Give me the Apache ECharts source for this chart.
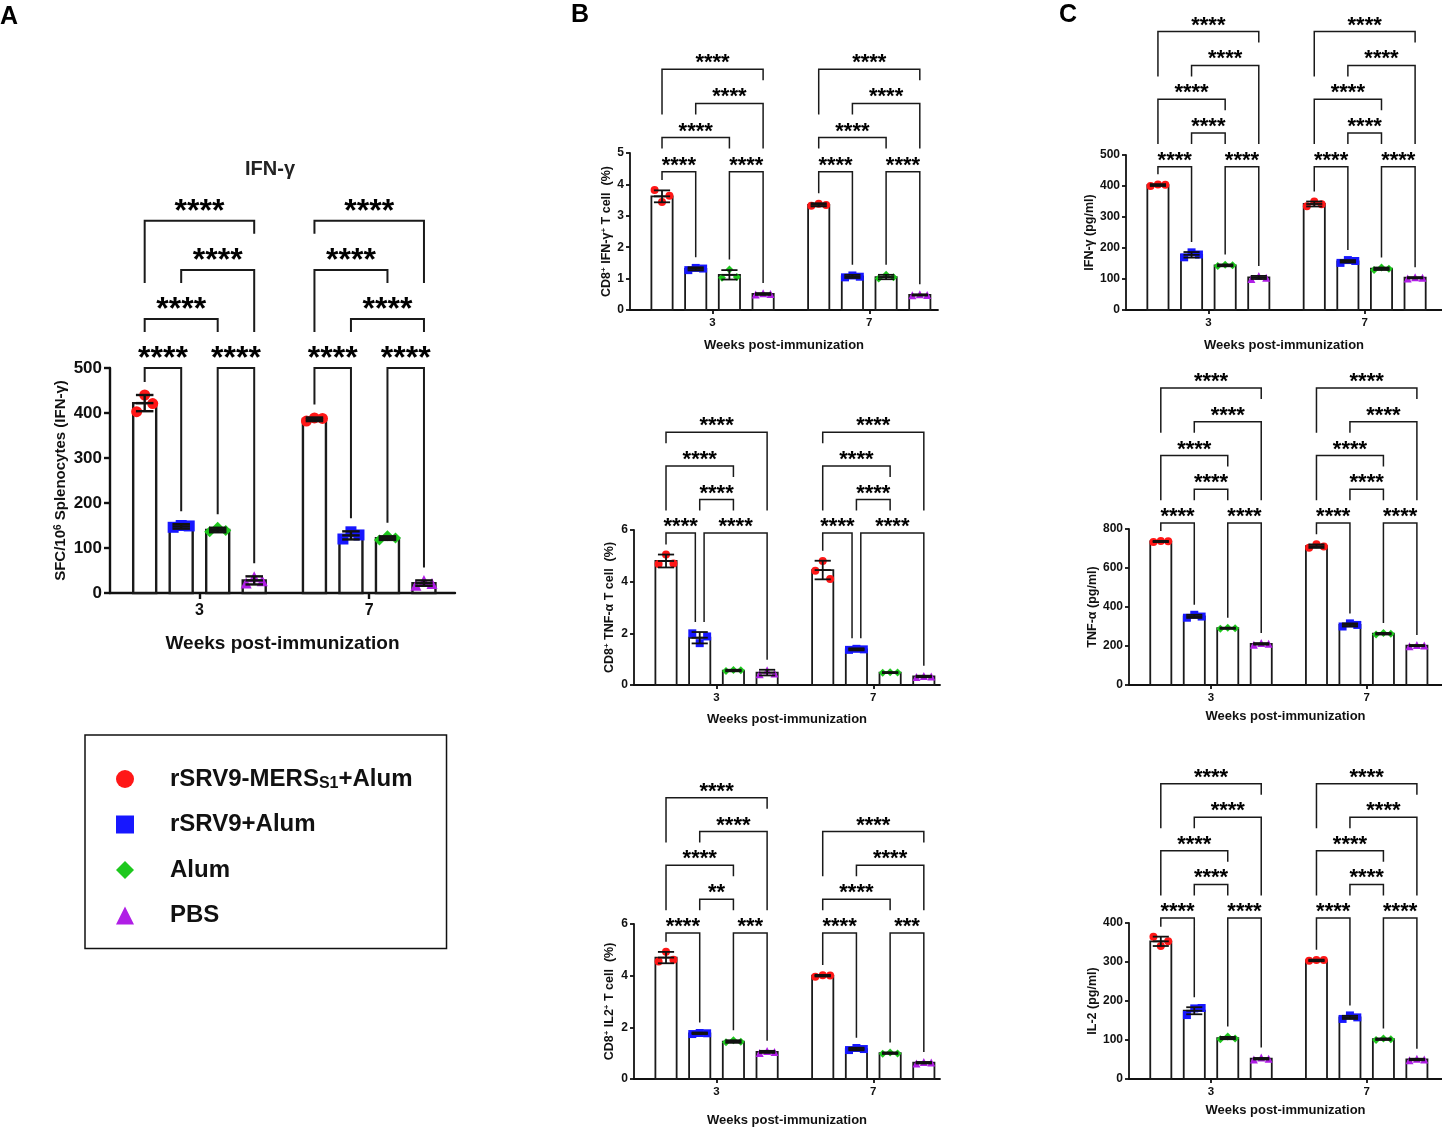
<!DOCTYPE html>
<html>
<head>
<meta charset="UTF-8">
<title>IFN-γ / TNF-α / IL-2 responses</title>
<script src="https://cdn.jsdelivr.net/npm/echarts@6/dist/echarts.min.js"></script>
</head>
<body style="margin:0">
<div id="main" style="width:1442px;height:1128px;"></div>
<script>
// groups and time points
var groups = ['rSRV9-MERS S1+Alum', 'rSRV9+Alum', 'Alum', 'PBS'];
var weeks = ['3', '7'];

// A: SFC/10^6 splenocytes (IFN-γ)   [week][group]
var aMean = [[422, 148, 140, 28], [386, 128, 122, 22]];
var aSd = [[18, 5, 5, 9], [4, 9, 4, 6]];
var aPts = [
  [[403, 440, 421], [146, 150, 149], [136, 146, 139], [22, 36, 27]],
  [[382, 389, 388], [120, 136, 129], [118, 127, 122], [17, 28, 21]]
];
// comparisons: [week, bar from, bar to, level, stars]
var aSig = [
  [0, 0, 1, 1, '****'], [0, 2, 3, 1, '****'], [0, 0, 2, 2, '****'], [0, 1, 3, 3, '****'], [0, 0, 3, 4, '****'],
  [1, 0, 1, 1, '****'], [1, 2, 3, 1, '****'], [1, 1, 3, 2, '****'], [1, 0, 2, 3, '****'], [1, 0, 3, 4, '****']
];

// B1: CD8+ IFN-γ+ T cell (%)
var b1Mean = [[3.62, 1.31, 1.12, 0.51], [3.35, 1.07, 1.05, 0.48]];
var b1Sd = [[0.19, 0.05, 0.15, 0.03], [0.05, 0.05, 0.07, 0.02]];
var b1Pts = [
  [[3.82, 3.44, 3.64], [1.27, 1.34, 1.32], [1.03, 1.29, 1.05], [0.49, 0.53, 0.51]],
  [[3.32, 3.38, 3.34], [1.04, 1.10, 1.06], [1.00, 1.12, 1.04], [0.47, 0.50, 0.48]]
];
var b1Sig = [
  [0, 0, 1, 1, '****'], [0, 2, 3, 1, '****'], [0, 0, 2, 2, '****'], [0, 1, 3, 3, '****'], [0, 0, 3, 4, '****'],
  [1, 0, 1, 1, '****'], [1, 2, 3, 1, '****'], [1, 0, 2, 2, '****'], [1, 1, 3, 3, '****'], [1, 0, 3, 4, '****']
];

// B2: CD8+ TNF-α T cell (%)
var b2Mean = [[4.80, 1.83, 0.56, 0.48], [4.45, 1.38, 0.48, 0.33]];
var b2Sd = [[0.25, 0.22, 0.03, 0.11], [0.36, 0.04, 0.02, 0.03]];
var b2Pts = [
  [[4.68, 5.05, 4.70], [2.00, 1.62, 1.88], [0.54, 0.58, 0.57], [0.42, 0.57, 0.45]],
  [[4.42, 4.80, 4.10], [1.36, 1.40, 1.38], [0.47, 0.49, 0.48], [0.31, 0.35, 0.33]]
];
var b2Sig = [
  [0, 0, 1, 1, '****'], [0, 1, 3, 1, '****'], [0, 1, 2, 2, '****'], [0, 0, 2, 3, '****'], [0, 0, 3, 4, '****'],
  [1, 0, 1, 1, '****'], [1, 1, 3, 1, '****'], [1, 1, 2, 2, '****'], [1, 0, 2, 3, '****'], [1, 0, 3, 4, '****']
];

// B3: CD8+ IL2+ T cell (%)
var b3Mean = [[4.70, 1.77, 1.45, 1.05], [4.00, 1.16, 1.00, 0.63]];
var b3Sd = [[0.22, 0.03, 0.05, 0.04], [0.03, 0.05, 0.03, 0.03]];
var b3Pts = [
  [[4.55, 4.93, 4.62], [1.74, 1.78, 1.77], [1.42, 1.50, 1.44], [1.01, 1.08, 1.05]],
  [[3.96, 4.02, 4.01], [1.12, 1.20, 1.16], [0.98, 1.03, 0.99], [0.60, 0.66, 0.64]]
];
var b3Sig = [
  [0, 0, 1, 1, '****'], [0, 2, 3, 1, '***'], [0, 1, 2, 2, '**'], [0, 0, 2, 3, '****'], [0, 1, 3, 4, '****'], [0, 0, 3, 5, '****'],
  [1, 0, 1, 1, '****'], [1, 2, 3, 1, '***'], [1, 0, 2, 2, '****'], [1, 1, 3, 3, '****'], [1, 0, 3, 4, '****']
];

// C1: IFN-γ (pg/ml)
var c1Mean = [[403, 178, 144, 105], [342, 157, 133, 104]];
var c1Sd = [[3, 9, 3, 5], [8, 4, 4, 2]];
var c1Pts = [
  [[400, 405, 404], [170, 186, 179], [142, 146, 144], [100, 110, 104]],
  [[335, 350, 341], [152, 161, 158], [129, 137, 133], [102, 106, 104]]
];
// C2: TNF-α (pg/ml)
var c2Mean = [[736, 352, 291, 211], [712, 308, 263, 202]];
var c2Sd = [[3, 8, 3, 4], [9, 8, 4, 3]];
var c2Pts = [
  [[733, 738, 737], [345, 360, 351], [289, 293, 291], [207, 215, 211]],
  [[704, 722, 710], [300, 316, 308], [259, 267, 263], [199, 205, 202]]
];
// C3: IL-2 (pg/ml)
var c3Mean = [[353, 175, 105, 52], [304, 158, 102, 50]];
var c3Sd = [[12, 9, 3, 2], [2, 4, 2, 2]];
var c3Pts = [
  [[365, 341, 353], [164, 181, 182], [102, 109, 104], [50, 55, 52]],
  [[303, 305, 305], [154, 163, 158], [100, 104, 102], [48, 52, 50]]
];
// same comparisons in all three C panels
var cSig = [
  [0, 0, 1, 1, '****'], [0, 2, 3, 1, '****'], [0, 1, 2, 2, '****'], [0, 0, 2, 3, '****'], [0, 1, 3, 4, '****'], [0, 0, 3, 5, '****'],
  [1, 0, 1, 1, '****'], [1, 2, 3, 1, '****'], [1, 1, 2, 2, '****'], [1, 0, 2, 3, '****'], [1, 1, 3, 4, '****'], [1, 0, 3, 5, '****']
];

// layout helpers
var FONT = '"Liberation Sans", Arial, sans-serif';
var GOFF = 4.65;           // x offset of the week-7 group in bar slots
var TICKS = [1.5, 1.5 + GOFF];
var JIT = [-0.22, 0, 0.22];
var BW = 0.63;
var SYMB = ['circle', 'rect', 'diamond', 'triangle'];
var COLS = ['#ff1717', '#1717ff', '#1ec81e', '#b01ee6'];

var panels = [
  {mean: aMean, sd: aSd, pts: aPts, sig: aSig, grid: {left: 110, top: 368, width: 345, height: 225},
   xMax: 8.5, yMax: 500, yStep: 100, base: 500, step: 109, big: true, xGap: 41, yGap: 42,
   yName: 'SFC/10{sup|6} Splenocytes (IFN-γ)'},
  {mean: b1Mean, sd: b1Sd, pts: b1Pts, sig: b1Sig, grid: {left: 630, top: 153, width: 308, height: 157},
   xMax: 8.19, yMax: 5, yStep: 1, base: 4.40, step: 1.09, xGap: 29, yGap: 17,
   yName: 'CD8{sup|+} IFN-γ{sup|+} T cell  (%)'},
  {mean: b2Mean, sd: b2Sd, pts: b2Pts, sig: b2Sig, grid: {left: 634, top: 530, width: 306, height: 155},
   xMax: 8.13, yMax: 6, yStep: 2, base: 5.88, step: 1.30, xGap: 28, yGap: 18,
   yName: 'CD8{sup|+} TNF-α T cell  (%)'},
  {mean: b3Mean, sd: b3Sd, pts: b3Pts, sig: b3Sig, grid: {left: 634, top: 924, width: 306, height: 155},
   xMax: 8.13, yMax: 6, yStep: 2, base: 5.65, step: 1.31, xGap: 35, yGap: 18,
   yName: 'CD8{sup|+} IL2{sup|+} T cell  (%)'},
  {mean: c1Mean, sd: c1Sd, pts: c1Pts, sig: cSig, grid: {left: 1126, top: 155, width: 316, height: 155},
   xMax: 8.45, yMax: 500, yStep: 100, base: 462, step: 109, xGap: 29, yGap: 28,
   yName: 'IFN-γ (pg/ml)'},
  {mean: c2Mean, sd: c2Sd, pts: c2Pts, sig: cSig, grid: {left: 1129, top: 529, width: 313, height: 156},
   xMax: 8.4, yMax: 800, yStep: 200, base: 831, step: 173, xGap: 25, yGap: 28,
   yName: 'TNF-α (pg/ml)'},
  {mean: c3Mean, sd: c3Sd, pts: c3Pts, sig: cSig, grid: {left: 1129, top: 923, width: 313, height: 156},
   xMax: 8.4, yMax: 400, yStep: 100, base: 413, step: 86, xGap: 25, yGap: 28,
   yName: 'IL-2 (pg/ml)'}
];

function barX(w, i) { return w * GOFF + i; }

function dataTop(p, w, i) {
  var t = p.mean[w][i] + p.sd[w][i];
  p.pts[w][i].forEach(function (v) { if (v > t) t = v; });
  return t;
}

// where a bracket leg at bar `bar` (level lv) stops
function legBottom(p, api, w, bar, lv) {
  var j = 0;
  p.sig.forEach(function (s) {
    if (s[0] === w && s[3] < lv && bar >= s[1] && bar <= s[2] && s[3] > j) j = s[3];
  });
  if (j > 0) return api.coord([0, p.base + j * p.step])[1] + (p.big ? 13 : 11);
  return api.coord([0, dataTop(p, w, bar)])[1] - (p.big ? 13 : 10);
}

// small sideways shift where two brackets of one level meet at a bar
function legShift(p, s, bar) {
  var d = 0;
  p.sig.forEach(function (o) {
    if (o === s || o[0] !== s[0] || o[3] !== s[3]) return;
    if (bar === s[2] && o[1] === bar) d = -0.13;
    if (bar === s[1] && o[2] === bar) d = 0.13;
  });
  return d;
}

var grid = [], xAxis = [], yAxis = [], series = [];

panels.forEach(function (p, k) {
  var lw = p.big ? 2.4 : 1.8;
  var g = p.grid;
  grid.push({left: g.left, top: g.top, width: g.width, height: g.height, outerBoundsMode: 'none', containLabel: false});

  xAxis.push({
    gridIndex: k, type: 'value', min: -0.95, max: p.xMax,
    axisLine: {show: true, onZero: false, lineStyle: {color: '#111', width: lw}},
    axisTick: {show: true, customValues: TICKS, length: p.big ? 6 : 4, lineStyle: {color: '#111', width: lw}},
    axisLabel: {customValues: TICKS, formatter: function (v) { return weeks[v < 4 ? 0 : 1]; },
      fontSize: p.big ? 16 : 11.5, fontWeight: 'bold', color: '#111', margin: p.big ? 10 : 7},
    splitLine: {show: false},
    name: 'Weeks post-immunization', nameLocation: 'middle', nameGap: p.xGap,
    nameTextStyle: {fontSize: p.big ? 19 : 13, fontWeight: 'bold', color: '#111'}
  });

  yAxis.push({
    gridIndex: k, type: 'value', min: 0, max: p.yMax, interval: p.yStep,
    axisLine: {show: true, onZero: false, lineStyle: {color: '#111', width: lw}},
    axisTick: {show: true, length: p.big ? 6 : 4, lineStyle: {color: '#111', width: lw}},
    axisLabel: {fontSize: p.big ? 17 : 12, fontWeight: 'bold', color: '#111', margin: p.big ? 8 : 6},
    splitLine: {show: false},
    name: p.yName, nameLocation: 'middle', nameRotate: 90, nameGap: p.yGap,
    nameTextStyle: {fontSize: p.big ? 15 : 12.5, fontWeight: 'bold', color: '#111',
      rich: {sup: {fontSize: p.big ? 10 : 8, fontWeight: 'bold', verticalAlign: 'top', color: '#111'}}}
  });

  var bars = [];
  weeks.forEach(function (wk, w) {
    for (var i = 0; i < 4; i++) bars.push([barX(w, i), p.mean[w][i], p.sd[w][i]]);
  });

  series.push({
    type: 'custom', xAxisIndex: k, yAxisIndex: k, z: 2, silent: true,
    data: bars, encode: {x: 0, y: 1},
    renderItem: function (params, api) {
      var x = api.value(0), m = api.value(1);
      var a = api.coord([x - BW / 2, m]), b = api.coord([x + BW / 2, 0]);
      return {type: 'rect', shape: {x: a[0], y: a[1], width: b[0] - a[0], height: b[1] - a[1]},
        style: {fill: '#fff', stroke: '#1a1a1a', lineWidth: lw}};
    }
  });

  groups.forEach(function (name, i) {
    var d = [];
    weeks.forEach(function (wk, w) {
      p.pts[w][i].forEach(function (v, n) { d.push([barX(w, i) + JIT[n], v]); });
    });
    series.push({
      type: 'scatter', name: name, xAxisIndex: k, yAxisIndex: k, z: 3, silent: true,
      symbol: SYMB[i], symbolSize: p.big ? 11 : 8, itemStyle: {color: COLS[i], opacity: 1},
      data: d
    });
  });

  series.push({
    type: 'custom', xAxisIndex: k, yAxisIndex: k, z: 4, silent: true,
    data: bars, encode: {x: 0, y: 1},
    renderItem: function (params, api) {
      var x = api.value(0), m = api.value(1), s = api.value(2), c = 0.24;
      var t = api.coord([x, m + s]), b = api.coord([x, m - s]), mid = api.coord([x, m]);
      var l = api.coord([x - c, m])[0], r = api.coord([x + c, m])[0];
      var st = {stroke: '#111', lineWidth: lw};
      return {type: 'group', children: [
        {type: 'line', shape: {x1: t[0], y1: t[1], x2: b[0], y2: b[1]}, style: st},
        {type: 'line', shape: {x1: l, y1: t[1], x2: r, y2: t[1]}, style: st},
        {type: 'line', shape: {x1: l, y1: b[1], x2: r, y2: b[1]}, style: st},
        {type: 'line', shape: {x1: l, y1: mid[1], x2: r, y2: mid[1]}, style: st}
      ]};
    }
  });

  series.push({
    type: 'custom', xAxisIndex: k, yAxisIndex: k, z: 4, silent: true, clip: false,
    data: p.sig.map(function (s) { return [barX(s[0], (s[1] + s[2]) / 2), p.base + (s[3] - 1) * p.step]; }),
    encode: {x: 0, y: 1},
    renderItem: function (params, api) {
      var s = p.sig[params.dataIndex];
      var w = s[0], lv = s[3];
      var xa = api.coord([barX(w, s[1]) + legShift(p, s, s[1]), 0])[0];
      var xb = api.coord([barX(w, s[2]) + legShift(p, s, s[2]), 0])[0];
      var yl = api.coord([0, p.base + (lv - 1) * p.step])[1];
      var ya = legBottom(p, api, w, s[1], lv), yb = legBottom(p, api, w, s[2], lv);
      return {type: 'group', children: [
        {type: 'polyline', shape: {points: [[xa, ya], [xa, yl], [xb, yl], [xb, yb]]},
          style: {stroke: '#1a1a1a', lineWidth: p.big ? 2 : 1.5, fill: null}},
        {type: 'text', x: (xa + xb) / 2, y: yl - (p.big ? 9 : 6),
          style: {text: s[4], fill: '#000', fontSize: p.big ? 32 : 22, fontWeight: 'bold', fontFamily: FONT,
            align: 'center', verticalAlign: 'middle'}}
      ]};
    }
  });
});

var chart = echarts.init(document.getElementById('main'));
chart.setOption({
  animation: false,
  backgroundColor: '#fff',
  textStyle: {fontFamily: FONT},
  grid: grid, xAxis: xAxis, yAxis: yAxis, series: series,
  legend: {
    data: groups.map(function (g, i) { return {name: g, icon: SYMB[i]}; }),
    orient: 'vertical', left: 85, top: 735, selectedMode: false,
    padding: [31, 34, 20, 31], itemGap: 19.5, itemWidth: 18, itemHeight: 18,
    borderColor: '#111', borderWidth: 1.5,
    textStyle: {fontSize: 24, fontWeight: 'bold', color: '#111', padding: [0, 0, 0, 31], lineHeight: 26,
      rich: {
        b: {fontSize: 24, fontWeight: 'bold', color: '#111', lineHeight: 26},
        s: {fontSize: 16, fontWeight: 'bold', color: '#111', lineHeight: 26, verticalAlign: 'bottom', padding: [8, 0, 0, 0]}
      }},
    formatter: function (name) {
      if (name === groups[0]) return '{b|rSRV9-MERS}{s|S1}{b|+Alum}';
      return '{b|' + name + '}';
    }
  },
  graphic: [
    {type: 'text', left: 0, top: 5, style: {text: 'A', fontSize: 25, fontWeight: 'bold', fill: '#000', fontFamily: FONT}},
    {type: 'text', left: 571, top: 3, style: {text: 'B', fontSize: 25, fontWeight: 'bold', fill: '#000', fontFamily: FONT}},
    {type: 'text', left: 1059, top: 3, style: {text: 'C', fontSize: 25, fontWeight: 'bold', fill: '#000', fontFamily: FONT}},
    {type: 'text', left: 245, top: 159, style: {text: 'IFN-γ', fontSize: 20, fontWeight: 'bold', fill: '#222', fontFamily: FONT}}
  ]
});
</script>
</body>
</html>
